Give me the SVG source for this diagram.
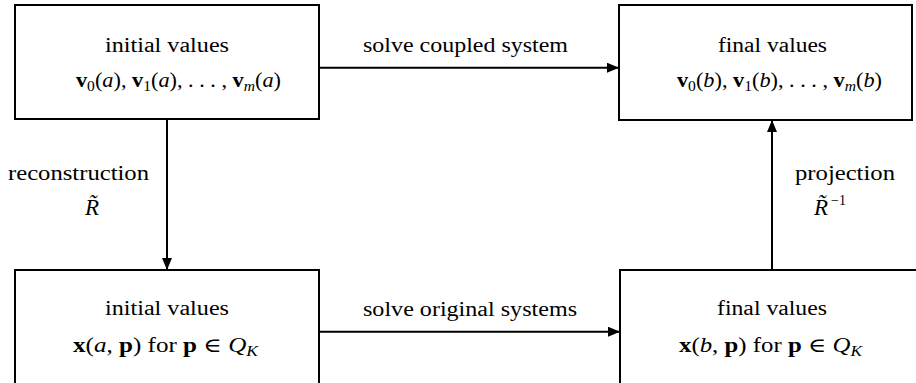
<svg xmlns="http://www.w3.org/2000/svg" width="916" height="383" viewBox="0 0 916 383">
  <style>
    .box { fill: #fff; stroke: #000; stroke-width: 2; }
    .edge { fill: none; stroke: #000; stroke-width: 2; }
    text { font-family: "Liberation Serif", "DejaVu Serif", serif; font-size: 20px; fill: #000; }
    .b { font-weight: bold; }
    .i { font-style: italic; }
    .s { font-size: 14px; }
    .op { font-style: italic; font-size: 23px; }
  </style>
  <defs>
    <marker id="arrow" markerUnits="userSpaceOnUse" markerWidth="13" markerHeight="11" refX="12" refY="5" orient="auto">
      <path d="M0,0 L12,5 L0,10 Z" fill="#000"/>
    </marker>
  </defs>

  <g id="init-coupled">
    <rect class="box" x="15" y="5" width="304" height="114"/>
    <text x="105" y="52" textLength="124" lengthAdjust="spacingAndGlyphs">initial values</text>
    <text x="76" y="87" textLength="205" lengthAdjust="spacingAndGlyphs"><tspan class="b">v</tspan><tspan class="s" dy="4">0</tspan><tspan dy="-4">(</tspan><tspan class="i">a</tspan><tspan>), </tspan><tspan class="b">v</tspan><tspan class="s" dy="4">1</tspan><tspan dy="-4">(</tspan><tspan class="i">a</tspan><tspan>), . . . , </tspan><tspan class="b">v</tspan><tspan class="s i" dy="4">m</tspan><tspan dy="-4">(</tspan><tspan class="i">a</tspan><tspan>)</tspan></text>
  </g>

  <g id="final-coupled">
    <rect class="box" x="619" y="5" width="293" height="115"/>
    <text x="718" y="52" textLength="109" lengthAdjust="spacingAndGlyphs">final values</text>
    <text x="677" y="87" textLength="205" lengthAdjust="spacingAndGlyphs"><tspan class="b">v</tspan><tspan class="s" dy="4">0</tspan><tspan dy="-4">(</tspan><tspan class="i">b</tspan><tspan>), </tspan><tspan class="b">v</tspan><tspan class="s" dy="4">1</tspan><tspan dy="-4">(</tspan><tspan class="i">b</tspan><tspan>), . . . , </tspan><tspan class="b">v</tspan><tspan class="s i" dy="4">m</tspan><tspan dy="-4">(</tspan><tspan class="i">b</tspan><tspan>)</tspan></text>
  </g>

  <g id="init-original">
    <rect class="box" x="15" y="270" width="304" height="130"/>
    <text x="105" y="315" textLength="124" lengthAdjust="spacingAndGlyphs">initial values</text>
    <text x="73" y="352" textLength="185" lengthAdjust="spacingAndGlyphs"><tspan class="b">x</tspan><tspan>(</tspan><tspan class="i">a</tspan><tspan>, </tspan><tspan class="b">p</tspan><tspan>)  for  </tspan><tspan class="b">p</tspan><tspan> ∈ </tspan><tspan class="i">Q</tspan><tspan class="s i" dy="4">K</tspan></text>
  </g>

  <g id="final-original">
    <rect class="box" x="620" y="270" width="310" height="130"/>
    <text x="717" y="315" textLength="110" lengthAdjust="spacingAndGlyphs">final values</text>
    <text x="679" y="352" textLength="183" lengthAdjust="spacingAndGlyphs"><tspan class="b">x</tspan><tspan>(</tspan><tspan class="i">b</tspan><tspan>, </tspan><tspan class="b">p</tspan><tspan>)  for  </tspan><tspan class="b">p</tspan><tspan> ∈ </tspan><tspan class="i">Q</tspan><tspan class="s i" dy="4">K</tspan></text>
  </g>

  <g id="connectors">
    <line class="edge" x1="319" y1="67.7" x2="619" y2="67.7" marker-end="url(#arrow)"/>
    <line class="edge" x1="167" y1="119" x2="167" y2="270" marker-end="url(#arrow)"/>
    <line class="edge" x1="319" y1="331.7" x2="620" y2="331.7" marker-end="url(#arrow)"/>
    <line class="edge" x1="772" y1="270" x2="772" y2="120" marker-end="url(#arrow)"/>

    <text x="363" y="52" textLength="205" lengthAdjust="spacingAndGlyphs">solve coupled system</text>
    <text x="363" y="316" textLength="214" lengthAdjust="spacingAndGlyphs">solve original systems</text>

    <text x="8" y="180" textLength="141" lengthAdjust="spacingAndGlyphs">reconstruction</text>
    <text x="92" y="215" text-anchor="middle" class="op">R̃</text>

    <text x="795" y="180" textLength="100" lengthAdjust="spacingAndGlyphs">projection</text>
    <text x="814" y="215"><tspan class="op">R̃</tspan><tspan class="s" dx="3" dy="-10">−1</tspan></text>
  </g>
</svg>
